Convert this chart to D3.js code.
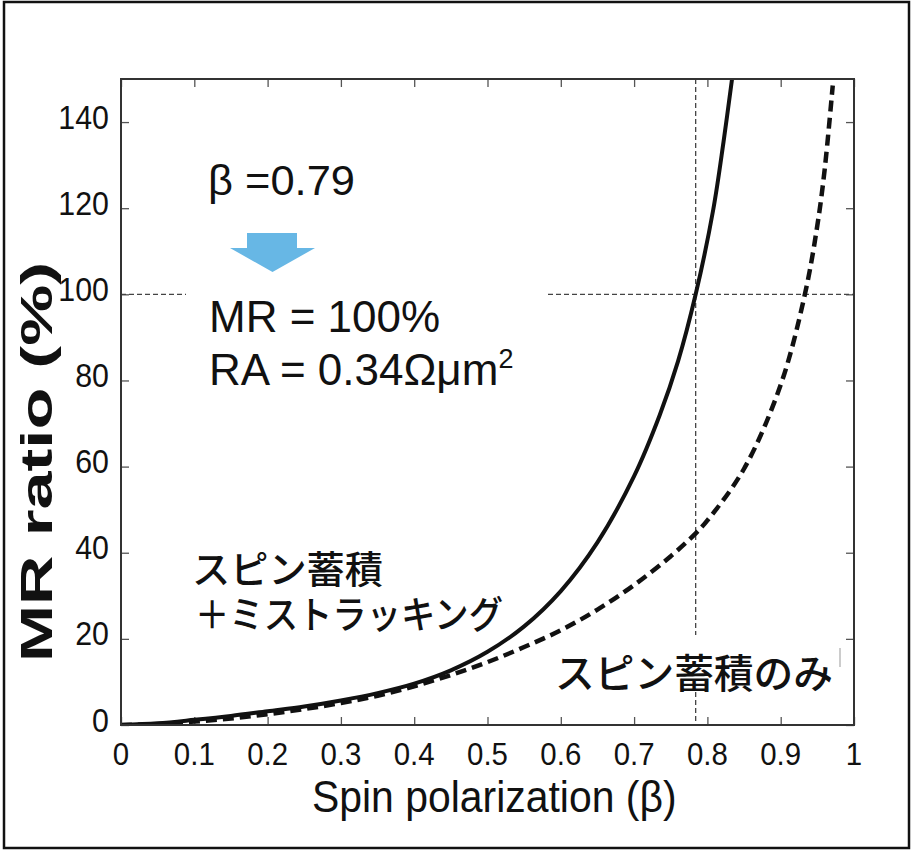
<!DOCTYPE html>
<html>
<head>
<meta charset="utf-8">
<script src="https://cdn.jsdelivr.net/npm/d3@7"></script>
<style>
  html, body { margin: 0; padding: 0; background: #fff; }
  svg { display: block; }
  text { font-family: "Liberation Sans", Arial, sans-serif; fill: #111; }
  .jp { font-family: "Noto Sans CJK JP", sans-serif; font-weight: 500; }
</style>
</head>
<body>
<svg id="chart" width="912" height="851"></svg>
<script>
// ---- data ----
const xTicks = [0, 0.1, 0.2, 0.3, 0.4, 0.5, 0.6, 0.7, 0.8, 0.9, 1];
const xTickLabels = ["0", "0.1", "0.2", "0.3", "0.4", "0.5", "0.6", "0.7", "0.8", "0.9", "1"];
const yTicks = [0, 20, 40, 60, 80, 100, 120, 140];
const yTickLabels = ["0", "20", "40", "60", "80", "100", "120", "140"];

// spin accumulation + mistracking (solid)
const solidBeta = [0, 0.05, 0.1, 0.15, 0.2, 0.25, 0.3, 0.35, 0.4, 0.45, 0.5, 0.55, 0.6, 0.65, 0.7, 0.735, 0.76, 0.784, 0.808, 0.822, 0.834];
const solidMR   = [0, 0.4, 1.2, 2.1, 3.2, 4.3, 5.7, 7.4, 9.6, 12.7, 17.0, 22.9, 31.1, 42.4, 57.8, 72.0, 84.5, 100, 119.7, 135.4, 150.5];

// spin accumulation only (dashed)
const dashBeta = [0, 0.05, 0.1, 0.15, 0.2, 0.25, 0.3, 0.35, 0.4, 0.45, 0.5, 0.55, 0.6, 0.65, 0.7, 0.75, 0.784, 0.8, 0.85, 0.9, 0.933, 0.95, 0.96, 0.971];
const dashMR   = [0, 0.2, 0.8, 1.5, 2.5, 3.7, 5.1, 6.8, 9.0, 11.6, 14.6, 18.1, 22.0, 26.8, 32.5, 39.2, 44.5, 47.5, 59.5, 79, 100, 116, 129, 148.5];

const markBeta = 0.784;
const markMR = 100;

const xDomain = [0, 1];
const yDomain = [0, 150];

// ---- layout ----
const svg = d3.select("#chart");
const L = 121, R = 854, T = 79, B = 725;
const x = d3.scaleLinear().domain(xDomain).range([L, R]);
const y = d3.scaleLinear().domain(yDomain).range([B, T]);

// outer frame
svg.append("rect").attr("x", 4).attr("y", 2).attr("width", 905).attr("height", 846)
  .attr("fill", "none").attr("stroke", "#111").attr("stroke-width", 2.5);

// clip
svg.append("clipPath").attr("id", "clip").append("rect")
  .attr("x", L).attr("y", T).attr("width", R - L).attr("height", B - T);

// axes ticks (inward)
function styleAxis(g) {
  g.select(".domain").remove();
  g.selectAll(".tick line").attr("stroke", "#555").attr("stroke-width", 1.3);
  g.selectAll(".tick text").remove();
}
svg.append("g").attr("transform", `translate(0,${B})`)
  .call(d3.axisBottom(x).tickValues(xTicks).tickSizeInner(-8).tickSizeOuter(0)).call(styleAxis);
svg.append("g").attr("transform", `translate(0,${T})`)
  .call(d3.axisTop(x).tickValues(xTicks).tickSizeInner(-8).tickSizeOuter(0)).call(styleAxis);
svg.append("g").attr("transform", `translate(${L},0)`)
  .call(d3.axisLeft(y).tickValues(yTicks).tickSizeInner(-8).tickSizeOuter(0)).call(styleAxis);
svg.append("g").attr("transform", `translate(${R},0)`)
  .call(d3.axisRight(y).tickValues(yTicks).tickSizeInner(-8).tickSizeOuter(0)).call(styleAxis);

// tick labels
const sx = 0.92;
svg.append("g").selectAll("text").data(xTicks).join("text")
  .attr("transform", d => `translate(${x(d)},765) scale(${sx},1)`)
  .attr("text-anchor", "middle").attr("font-size", 32)
  .text((d, i) => xTickLabels[i]);
svg.append("g").selectAll("text").data(yTicks).join("text")
  .attr("transform", d => `translate(109,${y(d) + 6.5}) scale(${sx},1)`)
  .attr("text-anchor", "end").attr("font-size", 33)
  .text((d, i) => yTickLabels[i]);

// reference dashed lines
const refStyle = s => s.attr("stroke", "#444").attr("stroke-width", 1.3).attr("stroke-dasharray", "5,3").attr("fill", "none");
svg.append("line").attr("x1", L).attr("x2", 186).attr("y1", y(markMR)).attr("y2", y(markMR)).call(refStyle);
svg.append("line").attr("x1", 548).attr("x2", R).attr("y1", y(markMR)).attr("y2", y(markMR)).call(refStyle);
svg.append("line").attr("x1", x(markBeta)).attr("x2", x(markBeta)).attr("y1", T).attr("y2", 635).call(refStyle);
svg.append("line").attr("x1", x(markBeta)).attr("x2", x(markBeta)).attr("y1", 692).attr("y2", B).call(refStyle);

// curves
const line = d3.line().x(d => x(d[0])).y(d => y(d[1])).curve(d3.curveCatmullRom.alpha(0.5));
const solidData = solidBeta.map((b, i) => [b, solidMR[i]]);
const dashData = dashBeta.map((b, i) => [b, dashMR[i]]);
const curves = svg.append("g").attr("clip-path", "url(#clip)");
curves.append("path").datum(dashData).attr("d", line)
  .attr("fill", "none").attr("stroke", "#111").attr("stroke-width", 4.5).attr("stroke-dasharray", "11,6");
curves.append("path").datum(solidData).attr("d", line)
  .attr("fill", "none").attr("stroke", "#111").attr("stroke-width", 4);

// plot frame
svg.append("rect").attr("x", L).attr("y", T).attr("width", R - L).attr("height", B - T)
  .attr("fill", "none").attr("stroke", "#333").attr("stroke-width", 2);

// small box-edge fragment near label
svg.append("line").attr("x1", 840).attr("x2", 840).attr("y1", 648).attr("y2", 667)
  .attr("stroke", "#999").attr("stroke-width", 1);

// annotation text
svg.append("text").attr("x", 208).attr("y", 195).attr("font-size", 42)
  .attr("textLength", 147).attr("lengthAdjust", "spacingAndGlyphs").text("β =0.79");

// blue arrow
const arrowColor = "#67B7E5";
svg.append("path")
  .attr("d", "M247,233 L297,233 L297,248 L315,248 L272.5,272 L230,248 L247,248 Z")
  .attr("fill", arrowColor);

svg.append("text").attr("x", 209).attr("y", 332).attr("font-size", 44).text("MR = 100%");
const ra = svg.append("text").attr("x", 209).attr("y", 385).attr("font-size", 44);
ra.append("tspan").text("RA = 0.34Ωμm");
ra.append("tspan").attr("dy", -17).attr("font-size", 27).text("2");

// Japanese labels
const jp1 = svg.append("text").attr("class", "jp").attr("font-size", 38);
jp1.append("tspan").attr("x", 192).attr("y", 583)
  .attr("textLength", 191).attr("lengthAdjust", "spacingAndGlyphs").text("スピン蓄積");
jp1.append("tspan").attr("x", 195).attr("y", 628)
  .attr("textLength", 308).attr("lengthAdjust", "spacingAndGlyphs").text("＋ミストラッキング");
svg.append("text").attr("class", "jp").attr("x", 555).attr("y", 688).attr("font-size", 40)
  .attr("textLength", 278).attr("lengthAdjust", "spacingAndGlyphs").text("スピン蓄積のみ");

// axis titles
svg.append("text").attr("transform", `translate(312,812) scale(0.93,1)`)
  .attr("font-size", 44).text("Spin polarization (β)");
svg.append("text").attr("transform", `translate(52,662) rotate(-90)`)
  .attr("font-size", 45).attr("font-weight", "bold")
  .attr("textLength", 400).attr("lengthAdjust", "spacingAndGlyphs")
  .text("MR ratio (%)");
</script>
</body>
</html>
